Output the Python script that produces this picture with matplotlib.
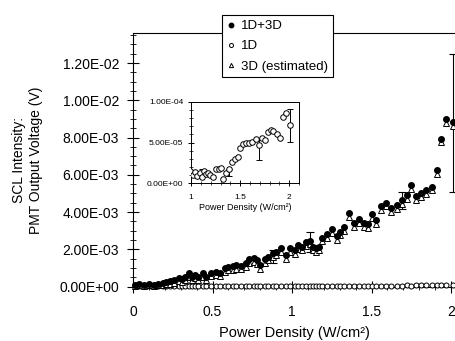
import numpy as np
import matplotlib
matplotlib.use("Agg")
import matplotlib.pyplot as plt
from matplotlib.ticker import MultipleLocator, FormatStrFormatter, FuncFormatter

plt.rcParams['font.family'] = ['Liberation Sans', 'DejaVu Sans']

# ---------------- data ----------------
power = [0.01, 0.04, 0.07, 0.10, 0.13, 0.16, 0.19, 0.21, 0.23, 0.26, 0.29,
         0.31, 0.33, 0.35, 0.37, 0.39, 0.41, 0.44, 0.46, 0.49, 0.52, 0.55, 0.58,
         0.60, 0.63, 0.65, 0.68, 0.71, 0.73, 0.76, 0.78, 0.80, 0.83, 0.85, 0.88,
         0.90, 0.93, 0.96, 0.99, 1.02, 1.04, 1.06, 1.09, 1.11, 1.13, 1.15, 1.17,
         1.19, 1.22, 1.25, 1.28, 1.30, 1.33, 1.36, 1.39, 1.42, 1.45, 1.48, 1.50,
         1.53, 1.56, 1.59, 1.62, 1.66, 1.69, 1.72, 1.75, 1.78, 1.81, 1.84, 1.88,
         1.91, 1.94, 1.97, 2.01]

# 1D+3D signal, units of 1e-3 V
total_mv = [0.10, 0.15, 0.10, 0.14, 0.10, 0.13, 0.20, 0.26, 0.30, 0.35, 0.44,
            0.40, 0.53, 0.71, 0.53, 0.62, 0.53, 0.71, 0.53, 0.74, 0.80, 0.74, 0.98,
            1.06, 1.10, 1.15, 1.12, 1.24, 1.46, 1.51, 1.42, 1.15, 1.46, 1.60, 1.78,
            1.87, 2.05, 1.69, 2.05, 1.96, 2.23, 2.14, 2.40, 2.46, 2.14, 2.05, 2.14,
            2.62, 2.80, 3.07, 2.71, 2.94, 3.20, 3.96, 3.42, 3.60, 3.39, 3.34, 3.88,
            3.57, 4.30, 4.50, 4.20, 4.37, 4.64, 4.90, 5.45, 4.86, 5.00, 5.18, 5.36,
            6.25, 7.95, 8.99, 8.81]

# 3D (estimated), units of 1e-3 V
three_d_mv = [0.05, 0.08, 0.05, 0.08, 0.05, 0.07, 0.10, 0.14, 0.16, 0.20, 0.28,
              0.24, 0.36, 0.52, 0.36, 0.44, 0.35, 0.52, 0.35, 0.55, 0.60, 0.55, 0.78,
              0.86, 0.90, 0.95, 0.92, 1.04, 1.26, 1.31, 1.22, 0.95, 1.26, 1.40, 1.58,
              1.67, 1.85, 1.49, 1.85, 1.76, 2.03, 1.94, 2.20, 2.26, 1.94, 1.85, 1.94,
              2.42, 2.60, 2.87, 2.51, 2.74, 3.00, 3.76, 3.22, 3.40, 3.19, 3.14, 3.68,
              3.37, 4.10, 4.30, 4.00, 4.17, 4.44, 4.70, 5.25, 4.66, 4.80, 4.98, 5.16,
              6.05, 7.75, 8.79, 8.61]

# 1D signal, units of 1e-5 V
one_d = [0.2, 0.3, 0.2, 0.4, 0.3, 0.5, 0.4, 0.6, 0.5, 0.7, 0.6, 0.8, 0.7, 0.6,
         0.9, 0.8, 0.7, 1.0, 0.9, 0.8, 1.1, 0.9, 1.0, 1.2, 1.0, 0.9, 1.1, 1.3,
         1.0, 1.2, 1.1, 0.9, 1.3, 1.2, 1.0, 1.4, 1.1, 1.3,
         1.5, 1.0, 1.4, 0.9, 1.3, 0.7, 1.5, 1.1, 1.3, 1.0, 0.8, 1.8, 1.8, 1.9,
         0.45, 1.3, 1.8, 2.6, 3.0, 3.2, 4.3, 4.8, 4.9, 5.0, 5.1, 5.4, 4.7, 5.5,
         5.3, 6.3, 6.5, 6.4, 6.0, 5.5, 8.2, 8.7, 7.2]

# error bars on the 1D+3D series (index, lower, upper), 1e-3 V
main_err_idx = [34, 43, 64, 74]
main_err_lo = [0.50, 0.59, 0.45, 3.75]
main_err_hi = [0.18, 0.45, 0.45, 3.67]

# error bars on the 1D series in the inset, 1e-5 V
inset_err_idx = [43, 54, 64, 74]
inset_err_lo = [0.0, 0.94, 1.9, 2.1]
inset_err_hi = [1.1, 0.0, 0.8, 1.9]

x = np.array(power)
y_tot = np.array(total_mv) * 1e-3
y_3d = np.array(three_d_mv) * 1e-3
y_1d = np.array(one_d) * 1e-5

# ---------------- figure ----------------
fig = plt.figure(figsize=(4.55, 3.41), dpi=100)
ax = fig.add_axes([0.2923, 0.1598, 0.7077, 0.7425])

ax.errorbar(x[main_err_idx], y_tot[main_err_idx],
            yerr=[np.array(main_err_lo) * 1e-3, np.array(main_err_hi) * 1e-3],
            fmt='none', ecolor='black', elinewidth=0.8, capsize=3, capthick=0.8, zorder=2)
ax.plot(x, y_tot, 'o', ms=4, color='black', mec='black', label='1D+3D', clip_on=False, zorder=4)
ax.plot(x, y_1d, 'o', ms=3.6, mfc='white', mec='black', mew=0.7, label='1D', clip_on=False, zorder=3)
ax.plot(x, y_3d, '^', ms=3.8, mfc='white', mec='black', mew=0.7, label='3D (estimated)', clip_on=False, zorder=3)

ax.set_xlim(0, 2.025)
ax.set_ylim(0, 0.0136)
ax.xaxis.set_major_locator(MultipleLocator(0.5))
ax.xaxis.set_minor_locator(MultipleLocator(0.1))
ax.yaxis.set_major_locator(MultipleLocator(0.002))
ax.yaxis.set_minor_locator(MultipleLocator(0.0005))
ax.yaxis.set_major_formatter(FormatStrFormatter('%.2E'))
ax.xaxis.set_major_formatter(FuncFormatter(lambda v, p: '%g' % v))
ax.tick_params(which='major', direction='inout', length=8, width=0.8, labelsize=10)
ax.tick_params(which='minor', direction='inout', length=5, width=0.6)
ax.tick_params(axis='x', pad=9)
ax.tick_params(axis='y', pad=6)
ax.spines['right'].set_visible(False)
for s in ['left', 'bottom', 'top']:
    ax.spines[s].set_linewidth(0.8)
ax.set_xlabel('Power Density (W/cm²)', fontsize=10.5, labelpad=5)

fig.text(0.041, 0.53, 'SCL Intensity:', rotation=90, ha='center', va='center', fontsize=10)
fig.text(0.080, 0.53, 'PMT Output Voltage (V)', rotation=90, ha='center', va='center', fontsize=10)

leg = fig.legend(loc='upper left', bbox_to_anchor=(0.488, 0.955), borderaxespad=0,
                 fontsize=9.5, frameon=True, fancybox=False, edgecolor='black',
                 framealpha=1, handlelength=0.7, handletextpad=0.4,
                 labelspacing=0.6, borderpad=0.35, markerscale=0.8)
leg.get_frame().set_linewidth(0.8)

# ---------------- inset ----------------
ins = fig.add_axes([0.42, 0.463, 0.237, 0.238])
ins.errorbar(x[inset_err_idx], y_1d[inset_err_idx],
             yerr=[np.array(inset_err_lo) * 1e-5, np.array(inset_err_hi) * 1e-5],
             fmt='none', ecolor='black', elinewidth=0.7, capsize=2.5, capthick=0.7, zorder=2)
ins.plot(x, y_1d, 'o', ms=4, mfc='white', mec='black', mew=0.7, zorder=3)
ins.set_xlim(1, 2.1)
ins.set_ylim(0, 1e-4)
ins.xaxis.set_major_locator(MultipleLocator(0.5))
ins.xaxis.set_minor_locator(MultipleLocator(0.1))
ins.yaxis.set_major_locator(MultipleLocator(5e-5))
ins.yaxis.set_minor_locator(MultipleLocator(1e-5))
ins.yaxis.set_major_formatter(FormatStrFormatter('%.2E'))
ins.xaxis.set_major_formatter(FuncFormatter(lambda v, p: '%g' % v))
ins.tick_params(which='major', direction='inout', length=5, width=0.7, labelsize=6)
ins.tick_params(which='minor', direction='inout', length=3, width=0.5)
ins.tick_params(axis='x', pad=5)
ins.tick_params(axis='y', pad=3)
for s in ins.spines.values():
    s.set_linewidth(0.7)
ins.set_xlabel('Power Density (W/cm²)', fontsize=6.5, labelpad=2)

fig.savefig('out.png', dpi=100)
